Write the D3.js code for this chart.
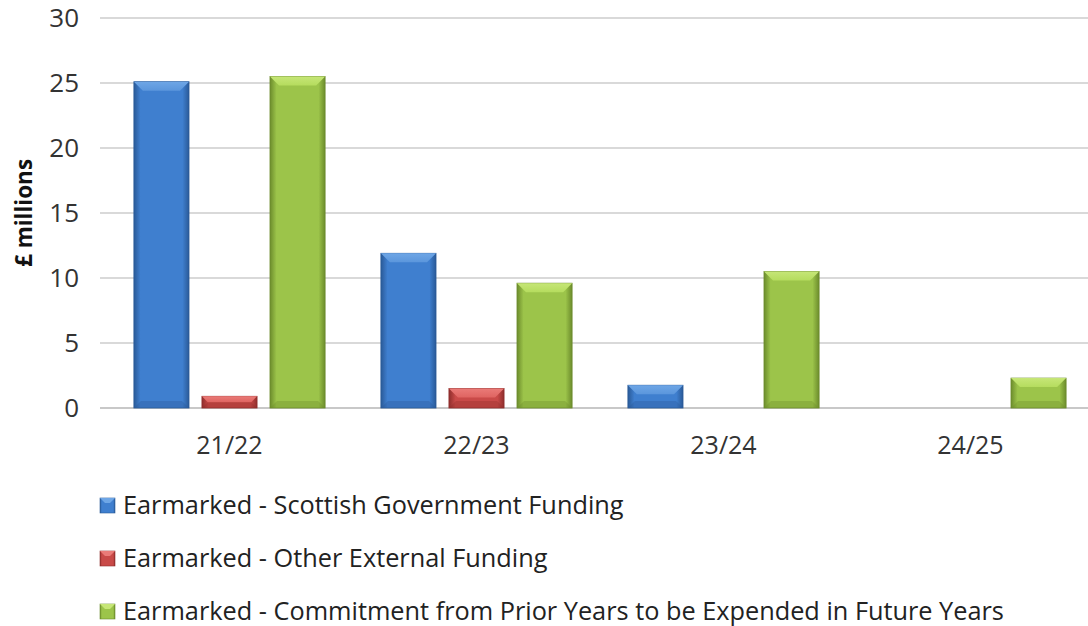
<!DOCTYPE html>
<html>
<head>
<meta charset="utf-8">
<script src="https://cdn.jsdelivr.net/npm/d3@7"></script>
<style>
  body { margin: 0; background: #fff; }
  svg { display: block; font-family: "Open Sans", "Noto Sans", sans-serif; }
</style>
</head>
<body>
<svg width="1088" height="626"></svg>
<script>
// chart data
const years = ["21/22", "22/23", "23/24", "24/25"];
const seriesNames = [
  "Earmarked - Scottish Government Funding",
  "Earmarked - Other External Funding",
  "Earmarked - Commitment from Prior Years to be Expended in Future Years"
];
const scottishGov = [25.1, 11.9, 1.75, 0];
const otherExternal = [0.9, 1.5, 0, 0];
const priorCommitment = [25.5, 9.6, 10.5, 2.3];
const yTicks = [0, 5, 10, 15, 20, 25, 30];

const palette = [
  { mid: "#3f7fcf", dark: "#2a5a98", light: "#6ea6e6", top: "#5b96dc" },
  { mid: "#c94a48", dark: "#8f2e2c", light: "#ea7b78", top: "#df6461" },
  { mid: "#9cc44a", dark: "#6c8c2c", light: "#c6e677", top: "#b5dc5e" }
];

const svg = d3.select("svg");
const width = 1088, height = 626;
const margin = { left: 106, right: -6, top: 18, bottom: 218 };

const x = d3.scaleBand()
  .domain(years)
  .range([margin.left, width - margin.right])
  .paddingInner(0)
  .paddingOuter(0);

const y = d3.scaleLinear()
  .domain([0, 30])
  .range([height - margin.bottom, margin.top]);

const xs = d3.scaleBand()
  .domain(d3.range(seriesNames.length))
  .range([0, x.bandwidth()])
  .paddingInner(0.19)
  .paddingOuter(0.41);

// gradients
const defs = svg.append("defs");
palette.forEach((p, i) => {
  const g = defs.append("linearGradient").attr("id", "body" + i)
    .attr("x1", 0).attr("x2", 1).attr("y1", 0).attr("y2", 0);
  g.append("stop").attr("offset", "0%").attr("stop-color", p.dark);
  g.append("stop").attr("offset", "12%").attr("stop-color", p.mid);
  g.append("stop").attr("offset", "88%").attr("stop-color", p.mid);
  g.append("stop").attr("offset", "100%").attr("stop-color", p.dark);
  const t = defs.append("linearGradient").attr("id", "top" + i)
    .attr("x1", 0).attr("x2", 0).attr("y1", 0).attr("y2", 1);
  t.append("stop").attr("offset", "0%").attr("stop-color", p.light);
  t.append("stop").attr("offset", "100%").attr("stop-color", p.top);
});

// gridlines
svg.append("g")
  .selectAll("line")
  .data(yTicks)
  .join("line")
  .attr("x1", 100)
  .attr("x2", width)
  .attr("y1", d => y(d))
  .attr("y2", d => y(d))
  .attr("stroke", d => d === 0 ? "#c8c8c8" : "#d9d9d9")
  .attr("stroke-width", 2);

// y tick labels
svg.append("g")
  .selectAll("text")
  .data(yTicks)
  .join("text")
  .attr("x", 79)
  .attr("y", d => y(d))
  .attr("dy", "0.36em")
  .attr("text-anchor", "end")
  .attr("font-size", 26)
  .attr("fill", "#333")
  .text(d => d);

// y axis title
svg.append("text")
  .attr("transform", `translate(32, ${y(15)}) rotate(-90)`)
  .attr("text-anchor", "middle")
  .attr("font-size", 22.5)
  .attr("font-weight", "bold")
  .attr("fill", "#111")
  .text("£ millions");

// x labels
svg.append("g")
  .selectAll("text")
  .data(years)
  .join("text")
  .attr("x", d => x(d) + x.bandwidth() / 2)
  .attr("y", 445)
  .attr("dy", "0.36em")
  .attr("text-anchor", "middle")
  .attr("font-size", 25)
  .attr("fill", "#333")
  .text(d => d);

// bars
const seriesValues = [scottishGov, otherExternal, priorCommitment];
const barData = [];
years.forEach((yr, i) => {
  seriesValues.forEach((vals, s) => {
    if (vals[i] > 0) barData.push({ year: yr, s: s, v: vals[i] });
  });
});

const bars = svg.append("g")
  .selectAll("g")
  .data(barData)
  .join("g")
  .attr("transform", d => `translate(${x(d.year) + xs(d.s)}, 0)`);

const bw = xs.bandwidth();
bars.append("rect")
  .attr("x", 0)
  .attr("y", d => y(d.v))
  .attr("width", bw)
  .attr("height", d => y(0) - y(d.v))
  .attr("fill", d => `url(#body${d.s})`)
  .attr("stroke", d => palette[d.s].dark)
  .attr("stroke-width", 0.8);

// top bevel
bars.append("path")
  .attr("d", d => {
    const t = y(d.v);
    const h = Math.min(9, (y(0) - t) / 2);
    return `M0,${t} L${bw},${t} L${bw - h},${t + h} L${h},${t + h} Z`;
  })
  .attr("fill", d => `url(#top${d.s})`);

// bottom shade
bars.append("path")
  .attr("d", d => {
    const t = y(d.v), b = y(0);
    const h = Math.min(7, (b - t) / 2);
    return `M0,${b} L${bw},${b} L${bw - h},${b - h} L${h},${b - h} Z`;
  })
  .attr("fill", d => palette[d.s].dark)
  .attr("opacity", 0.35);

// legend
const legend = svg.append("g")
  .selectAll("g")
  .data(seriesNames)
  .join("g")
  .attr("transform", (d, i) => `translate(100, ${505 + i * 53})`);

legend.append("rect")
  .attr("x", 0).attr("y", -7)
  .attr("width", 15).attr("height", 15)
  .attr("fill", (d, i) => `url(#body${i})`)
  .attr("stroke", (d, i) => palette[i].dark)
  .attr("stroke-width", 0.6);

legend.append("path")
  .attr("d", "M0,-7 L15,-7 L10,-2 L5,-2 Z")
  .attr("fill", (d, i) => palette[i].light);

legend.append("text")
  .attr("x", 23)
  .attr("y", 0)
  .attr("dy", "0.36em")
  .attr("font-size", 25.3)
  .attr("fill", "#222")
  .text(d => d);
</script>
</body>
</html>
